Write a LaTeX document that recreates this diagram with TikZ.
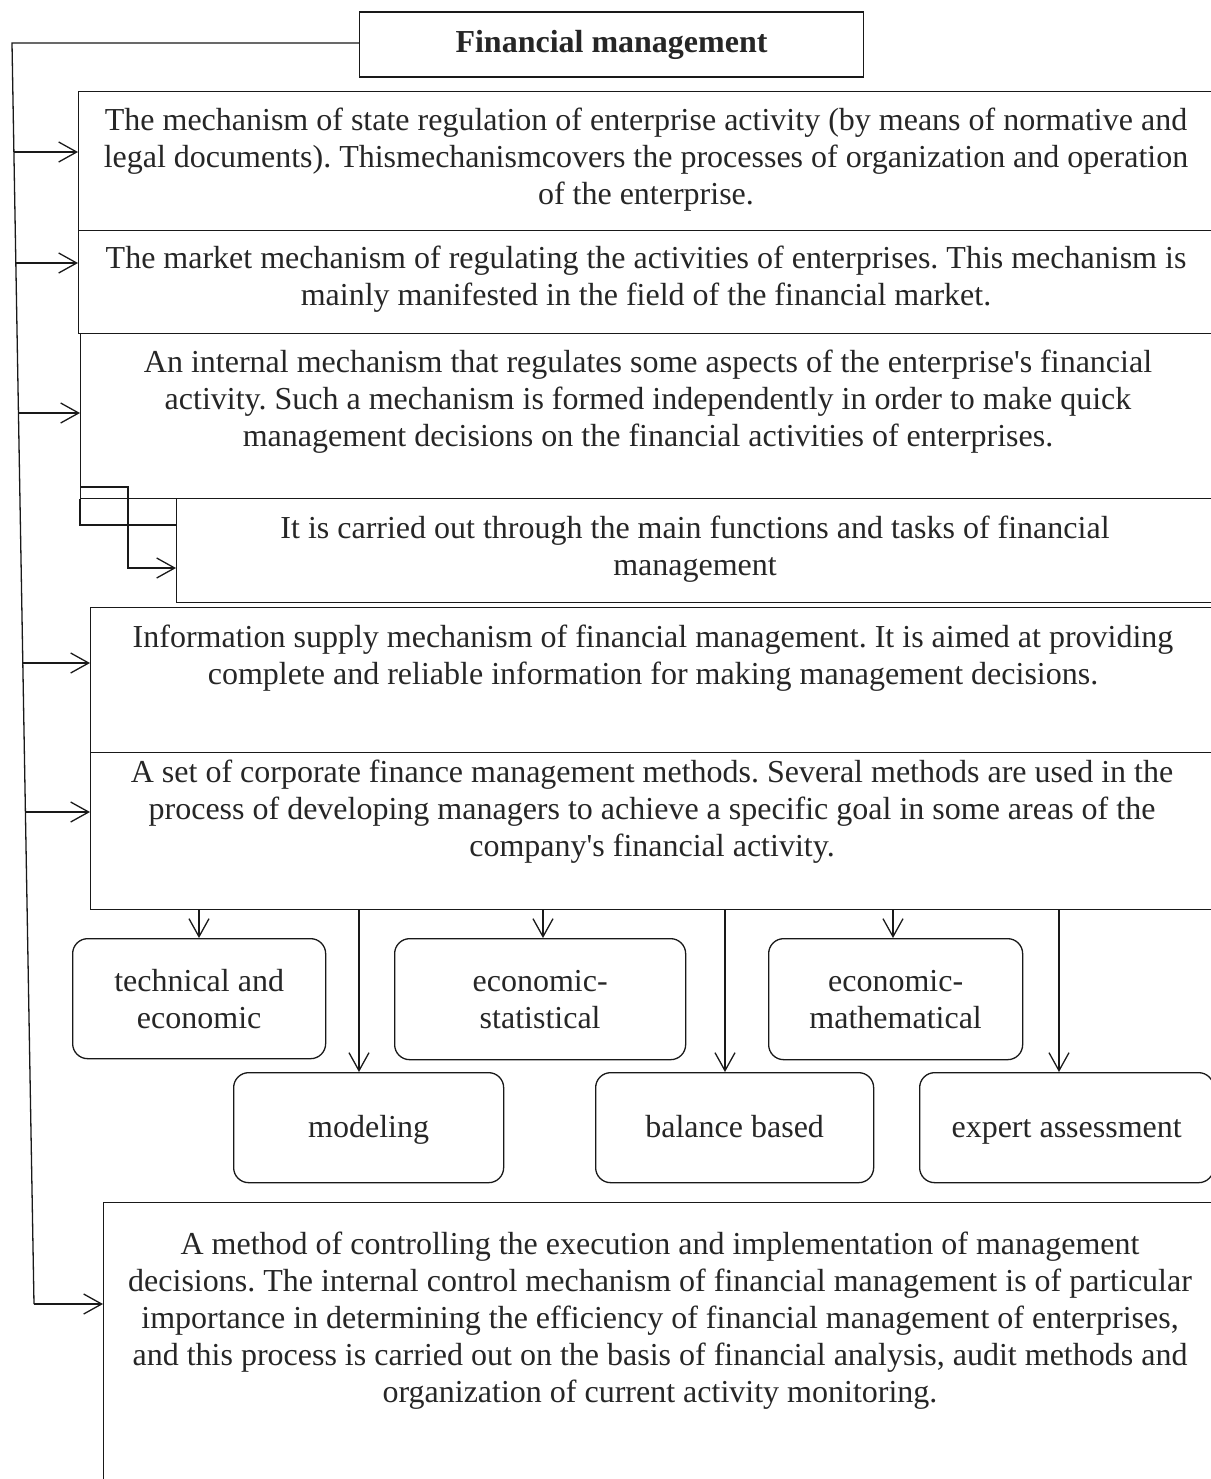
\documentclass[tikz,border=0pt]{standalone}
\usepackage{fontspec}
\setmainfont{Liberation Serif}[Ligatures=TeXOff]
\usetikzlibrary{arrows.meta}
\frenchspacing
\begin{document}
\frenchspacing
\begin{tikzpicture}[x=0.5pt,y=-0.5pt,
  line width=0.65pt, draw=black!90,
  txt/.style={font=\fontsize{16}{18.5}\selectfont, text=black!85, inner sep=0pt, align=center, anchor=base},
  bigbox/.style={draw, rectangle, inner sep=0pt, anchor=north west},
  rbox/.style={draw, rectangle, rounded corners=7.5pt, inner sep=0pt, anchor=north west,
     font=\fontsize{16}{18.5}\selectfont, text=black!85, align=center},
  oneline/.style={text height=13pt, text depth=3pt},
  arr/.style={-{Straight Barb[length=9pt,width=10pt]}}
]
\useasboundingbox (0,0) rectangle (1211,1479);

% title
\node[draw, rectangle, inner sep=0pt, minimum width=252pt, minimum height=32.5pt,
      font=\fontsize{16}{18.5}\selectfont\bfseries, text=black!85] (title) at (611.5,44.5) {Financial management};

% big boxes
\node[bigbox, minimum width=568pt, minimum height=69.5pt] (b1) at (78,91) {};
\node[bigbox, minimum width=568pt, minimum height=51.5pt] (b2) at (78,230) {};
\node[bigbox, minimum width=567pt, minimum height=82.5pt] (b3) at (80,333) {};
\node[bigbox, minimum width=519pt, minimum height=52pt] (b4) at (176,498) {};
\node[bigbox, minimum width=562pt, minimum height=72.5pt] (b5) at (90,607) {};
\node[bigbox, minimum width=562pt, minimum height=78.5pt] (b6) at (90,752) {};
\node[bigbox, minimum width=555.5pt, minimum height=145pt] (ctrl) at (103,1202) {};

% texts of big boxes (anchor base = baseline of last line)
\node[txt] (t1) at (646,204) {The mechanism of state regulation of enterprise activity (by means of normative and\\legal documents). Thismechanismcovers the processes of organization and operation\\of the enterprise.};
\node[txt] (t2) at (646,305) {The market mechanism of regulating the activities of enterprises. This mechanism is\\mainly manifested in the field of the financial market.};
\node[txt] (t3) at (648,446) {An internal mechanism that regulates some aspects of the enterprise's financial\\activity. Such a mechanism is formed independently in order to make quick\\management decisions on the financial activities of enterprises.};
\node[txt] (t4) at (695,575) {It is carried out through the main functions and tasks of financial\\management};
\node[txt] (t5) at (653,684) {Information supply mechanism of financial management. It is aimed at providing\\complete and reliable information for making management decisions.};
\node[txt] (t6) at (652,856) {A set of corporate finance management methods. Several methods are used in the\\process of developing managers to achieve a specific goal in some areas of the\\company's financial activity.};
\node[txt] (t7) at (660,1402) {A method of controlling the execution and implementation of management\\decisions. The internal control mechanism of financial management is of particular\\importance in determining the efficiency of financial management of enterprises,\\and this process is carried out on the basis of financial analysis, audit methods and\\organization of current activity monitoring.};

% method boxes
\node[rbox, minimum width=126.5pt, minimum height=60pt] (tech) at (72,938) {technical and\\economic};
\node[rbox, minimum width=145.5pt, minimum height=60.5pt] (estat) at (394,938) {economic-\\statistical};
\node[rbox, minimum width=127pt, minimum height=60.5pt] (emath) at (768,938) {economic-\\mathematical};
\node[rbox, oneline, minimum width=135pt, minimum height=55pt] (model) at (233,1072) {modeling};
\node[rbox, oneline, minimum width=139pt, minimum height=55pt] (bal) at (595,1072) {balance based};
\node[rbox, oneline, minimum width=147pt, minimum height=55pt] (expert) at (919,1072) {expert assessment};

% spine
\coordinate (sTop) at (12,43);
\coordinate (sBot) at (34,1304);
\draw (title.west |- sTop) -- (sTop) -- (sBot);
\draw[arr] (sBot) -- (sBot -| ctrl.west);
\coordinate (s1) at (13.9,152);
\coordinate (s2) at (15.8,263);
\coordinate (s3) at (18.4,413);
\coordinate (s5) at (22.8,663);
\coordinate (s6) at (25.4,812);
\draw[arr] (s1) -- (s1 -| b1.west);
\draw[arr] (s2) -- (s2 -| b2.west);
\draw[arr] (s3) -- (s3 -| b3.west);
\draw[arr] (s5) -- (s5 -| b5.west);
\draw[arr] (s6) -- (s6 -| b6.west);

% b3 -> b4
\coordinate (c1) at (80,525);
\draw (b3.south west) -- (c1) -- (c1 -| b4.west);
\coordinate (c2) at (80,487);
\coordinate (c3) at (128,568);
\draw[arr] (c2) -- (c2 -| c3) -- (c3) -- (c3 -| b4.west);

% down arrows from b6
\coordinate (d1) at (199,909);
\coordinate (d2) at (359,909);
\coordinate (d3) at (543,909);
\coordinate (d4) at (725,909);
\coordinate (d5) at (893,909);
\coordinate (d6) at (1059,909);
\draw[arr] (d1) -- (d1 |- tech.north);
\draw[arr] (d2) -- (d2 |- model.north);
\draw[arr] (d3) -- (d3 |- estat.north);
\draw[arr] (d4) -- (d4 |- bal.north);
\draw[arr] (d5) -- (d5 |- emath.north);
\draw[arr] (d6) -- (d6 |- expert.north);
\end{tikzpicture}
\end{document}
